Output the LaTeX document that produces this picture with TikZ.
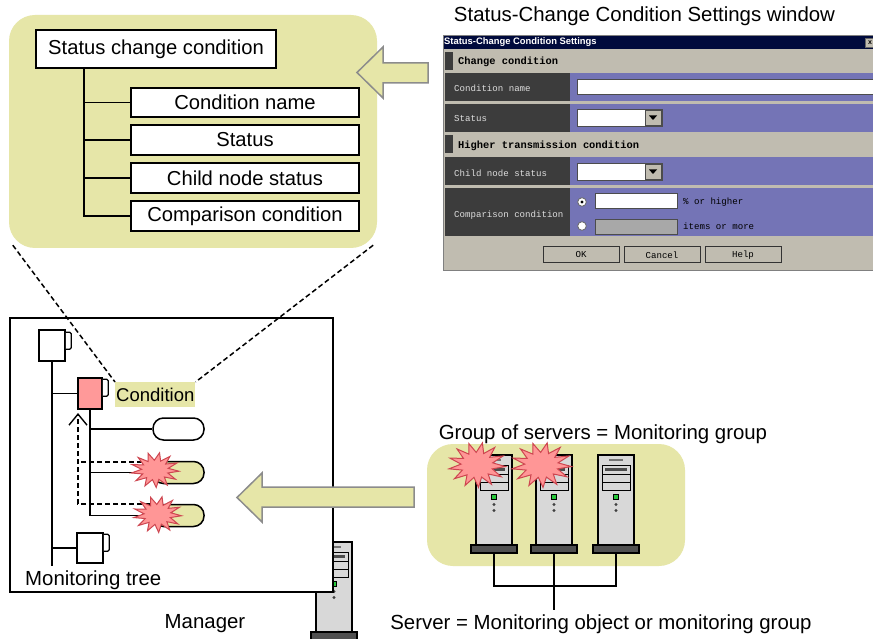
\documentclass[tikz,border=0pt]{standalone}
\usepackage{fontspec}
\setmainfont{Liberation Sans}
\newfontfamily\dlgfont{Liberation Mono}
\usetikzlibrary{arrows.meta}
\newcommand\fsz[1]{\fontsize{#1}{#1}\selectfont}

\definecolor{khaki}{RGB}{230,230,168}
\definecolor{arrowedge}{RGB}{140,140,140}
\definecolor{pinkfill}{RGB}{255,153,153}
\definecolor{burstedge}{RGB}{205,70,80}
\definecolor{burstfill}{RGB}{255,150,150}
\definecolor{dlgbody}{RGB}{192,188,176}
\definecolor{dlgtitle}{RGB}{0,10,60}
\definecolor{dlgdark}{RGB}{60,60,60}
\definecolor{dlgpurple}{RGB}{116,116,182}
\definecolor{dlglabel}{RGB}{222,222,222}
\definecolor{towerbody}{RGB}{216,216,216}
\definecolor{towerbase}{RGB}{80,80,80}
\definecolor{ledgreen}{RGB}{40,200,60}
\definecolor{fieldgray}{RGB}{168,168,168}

\tikzset{
  lbl/.style={inner sep=0pt, font=\fsz{20.4}},
  treebox/.style={draw, line width=1.4pt, fill=white, inner sep=0pt, font=\fsz{20.2}},
  treeline/.style={line width=1.7pt},
  doc/.style={draw, line width=1.5pt, fill=white, inner sep=0pt, minimum width=26pt, minimum height=31pt},
  pill/.style={draw, line width=1.5pt, rounded corners=10.5pt, minimum width=51pt, minimum height=22pt, inner sep=0pt},
  dashedline/.style={line width=1.5pt, dash pattern=on 5pt off 3pt},
  bigarrow/.style={fill=khaki, draw=arrowedge, line width=1.5pt, line join=miter},
  dlglbl/.style={anchor=west, inner sep=0pt, font=\dlgfont\fsz{9.1}, text=dlglabel},
  dlgtext/.style={anchor=west, inner sep=0pt, font=\dlgfont\fsz{9.1}},
  dlghead/.style={anchor=west, inner sep=0pt, font=\dlgfont\bfseries\fsz{10.4}},
  field/.style={fill=white, draw=black!70, line width=0.8pt},
  dlgbutton/.style={draw=black!80, fill=dlgbody, line width=1pt, minimum width=76pt, minimum height=16pt, inner sep=0pt, font=\dlgfont\fsz{9.1}},
  pics/tower/.style={code={
    \draw[line width=1.4pt, fill=towerbody] (0,0) rectangle (36,90);
    \draw[line width=1.1pt, fill=towerbase] (-5,90) rectangle (41,98);
    \draw[line width=1.2pt, black!55] (11,5) -- (25,5);
    \draw[line width=1pt, fill=towerbody] (4,10) rectangle (32,19);
    \fill[black!70] (7,12.5) rectangle (29,16);
    \draw[line width=1pt] (4,19) rectangle (32,27) (4,27) rectangle (32,35);
    \draw[line width=0.6pt, fill=ledgreen] (15.5,39.5) rectangle (20.5,44.5);
    \fill[black!75] (18,49.5) circle (1.6) (18,55.5) circle (1.6);
    \coordinate (-base) at (18,98);
  }},
  pics/burst/.style n args={2}{code={
    \draw[line width=1pt, draw=burstedge, fill=burstfill, line join=miter]
      plot[samples at={0,...,25}, variable=\k]
      ({cos(\k*13.846+4)*(0.78+0.22*cos(\k*180))*#1}, {sin(\k*13.846+4)*(0.78+0.22*cos(\k*180))*#2}) -- cycle;
  }}
}

\newcommand\mughandle[2]{%
  \draw[line width=1.3pt, fill=white, rounded corners=1.5pt]
    ([yshift=-#2]#1.north east) -- ++(5.5,0) -- ++(0,17) -- ++(-5.5,0);}

\begin{document}
\begin{tikzpicture}[x=1pt, y=-1pt]
\useasboundingbox[fill=white] (0,0) rectangle (873,639);

% ---------- enlarged view of the condition ----------
\node (zoomarea) [fill=khaki, rounded corners=26pt, minimum width=368pt, minimum height=233pt, inner sep=0pt] at (193,131.5) {};
\draw[bigarrow] (428,63) -- (383,63) -- (383,47) -- (357,72.5) -- (383,98) -- (383,83) -- (428,83) -- cycle;

\node (sc) [treebox, minimum width=240pt, minimum height=38pt] at (156,49) {Status change condition};
\node (cn) [treebox, minimum width=228pt, minimum height=29pt] at (245,102.5) {Condition name};
\node (st) [treebox, minimum width=228pt, minimum height=30pt] at (245,140) {Status};
\node (cs) [treebox, minimum width=228pt, minimum height=30pt] at (245,178) {Child node status};
\node (cc) [treebox, minimum width=228pt, minimum height=30pt] at (245,216) {Comparison condition};
\coordinate (sctrunk) at (84,68);
\draw[treeline] (sctrunk) -- (sctrunk |- cc.west) -- (cc.west);
\foreach \n in {cn,st,cs} \draw[treeline] (sctrunk |- \n.west) -- (\n.west);

% ---------- settings window ----------
\node[lbl, anchor=base] (wlabel) at (644.5,22) {Status-Change Condition Settings window};
\draw[fill=dlgbody, draw=black!50, line width=0.8pt] (443,35) rectangle (876,270);
\fill[dlgtitle] (444,36) rectangle (873,49);
\node[anchor=west, text=white, inner sep=0pt, font=\fsz{9.4}\bfseries] (wtitle) at (444,42.5) {Status-Change Condition Settings};
\node[draw=black!60, fill=dlgbody, minimum width=9pt, minimum height=9pt, inner sep=0pt, font=\fsz{7}\bfseries] (wclose) at (870,42.5) {x};

\fill[dlgdark] (445,52) rectangle (453,70);
\node[dlghead] (h1) at (458,62) {Change condition};

\fill[dlgdark] (445,73) rectangle (570,101);
\fill[dlgpurple] (570,73) rectangle (873,101);
\node[dlglbl] (l1) at (454,88) {Condition name};
\draw[field] (577,79) rectangle (876,94);

\fill[dlgdark] (445,104) rectangle (570,132);
\fill[dlgpurple] (570,104) rectangle (873,132);
\node[dlglbl] (l2) at (454,119) {Status};
\draw[field] (577,109) rectangle (662,126);
\draw[fill=dlgbody, draw=black!70, line width=0.8pt] (645,110.5) rectangle (661,125);
\fill (649,115.5) -- (657,115.5) -- (653,120) -- cycle;

\fill[dlgdark] (445,135) rectangle (453,153);
\node[dlghead] (h2) at (458,146) {Higher transmission condition};

\fill[dlgdark] (445,157) rectangle (570,185);
\fill[dlgpurple] (570,157) rectangle (873,185);
\node[dlglbl] (l3) at (454,173) {Child node status};
\draw[field] (577,163) rectangle (662,180);
\draw[fill=dlgbody, draw=black!70, line width=0.8pt] (645,164.5) rectangle (661,179);
\fill (649,169.5) -- (657,169.5) -- (653,174) -- cycle;

\fill[dlgdark] (445,188) rectangle (570,236);
\fill[dlgpurple] (570,188) rectangle (873,236);
\node[dlglbl] (l4) at (454,215) {Comparison condition};
\draw[fill=white, draw=black!60, line width=0.8pt] (582,202) circle (4.3);
\fill (582,202) circle (1.6);
\draw[field] (595,193) rectangle (677,208);
\node[dlgtext] (t1) at (683,202) {\% or higher};
\draw[fill=white, draw=black!60, line width=0.8pt] (582,226) circle (4.3);
\draw[fill=fieldgray, draw=black!70, line width=0.8pt] (595,219) rectangle (677,234);
\node[dlgtext] (t2) at (683,226.5) {items or more};

\node[dlgbutton] (bok) at (581,255) {OK};
\node[dlgbutton] (bcancel) at (662,255) {Cancel};
\node[dlgbutton] (bhelp) at (743,255) {Help};

% ---------- manager ----------
\pic at (316,542) {tower};
\node (mgr) [draw, line width=1.6pt, fill=white, minimum width=323pt, minimum height=274pt, inner sep=0pt] at (171.5,455) {};

\node (doc1) [doc] at (52,345.5) {};
\mughandle{doc1}{3pt}
\node (cond) [doc, fill=pinkfill, minimum width=24pt] at (90,393.5) {};
\mughandle{cond}{2pt}
\node (doc3) [doc, minimum height=30pt] at (90,548) {};
\mughandle{doc3}{2pt}

\coordinate (trunkend) at (52,566);
\draw[treeline] (doc1.south) -- (trunkend);
\draw[treeline] (doc1.south |- cond.west) -- (cond.west);
\draw[treeline] (doc1.south |- doc3.west) -- (doc3.west);

\node (p1) [pill, fill=white] at (178.5,429) {};
\node (p2) [pill, fill=khaki] at (178.5,472.5) {};
\node (p3) [pill, fill=khaki] at (178.5,515.5) {};
\draw[treeline] (cond.south) -- (cond.south |- p3.west) -- (p3.west);
\draw[treeline] (cond.south |- p1.west) -- (p1.west);
\draw[treeline] (cond.south |- p2.west) -- (p2.west);

\coordinate (dtip) at (78,413);
\coordinate (da) at (150,462);
\coordinate (db) at (150,504);
\draw[dashedline] (da) -- (da -| dtip);
\draw[dashedline, -{Straight Barb[length=11pt, width=18pt, line width=1.4pt]}] (db) -- (db -| dtip) -- (dtip);

\pic at (155,470) {burst={24}{17.5}};
\pic at (157.5,514.5) {burst={24}{18}};

\node (condlbl) [fill=khaki, inner sep=1pt, minimum height=25pt, anchor=north west, font=\fsz{18.5}] at (115,382) {Condition};
\draw[dashedline] ([shift={(4,-3)}]zoomarea.south west) -- (condlbl.north west);
\draw[dashedline] ([shift={(-4,-3)}]zoomarea.south east) -- (condlbl.north east);

\node[lbl, anchor=base west] (treelbl) at (25,585) {Monitoring tree};
\node[lbl, anchor=base] (mgrlbl) at (205,628) {Manager};

% ---------- monitored servers ----------
\draw[bigarrow] (414,487) -- (262,487) -- (262,473) -- (237,497.5) -- (262,522) -- (262,507) -- (414,507) -- cycle;

\node[lbl, anchor=base] (grplbl) at (603,439) {Group of servers = Monitoring group};
\node (grp) [fill=khaki, rounded corners=26pt, minimum width=258pt, minimum height=122pt, inner sep=0pt] at (556,505) {};
\pic (s1) at (476,455) {tower};
\pic (s2) at (536,455) {tower};
\pic (s3) at (598,455) {tower};
\pic at (477,465) {burst={28.5}{22.5}};
\pic at (541.5,465) {burst={30}{22.5}};

\node[lbl, anchor=base, inner sep=4pt] (srvlbl) at (601,629) {Server = Monitoring object or monitoring group};
\coordinate (bus) at (554,586);
\draw[treeline] (s1-base) |- (bus) -| (s3-base);
\draw[treeline] (s2-base) -- (s2-base |- srvlbl.north);
\end{tikzpicture}
\end{document}
